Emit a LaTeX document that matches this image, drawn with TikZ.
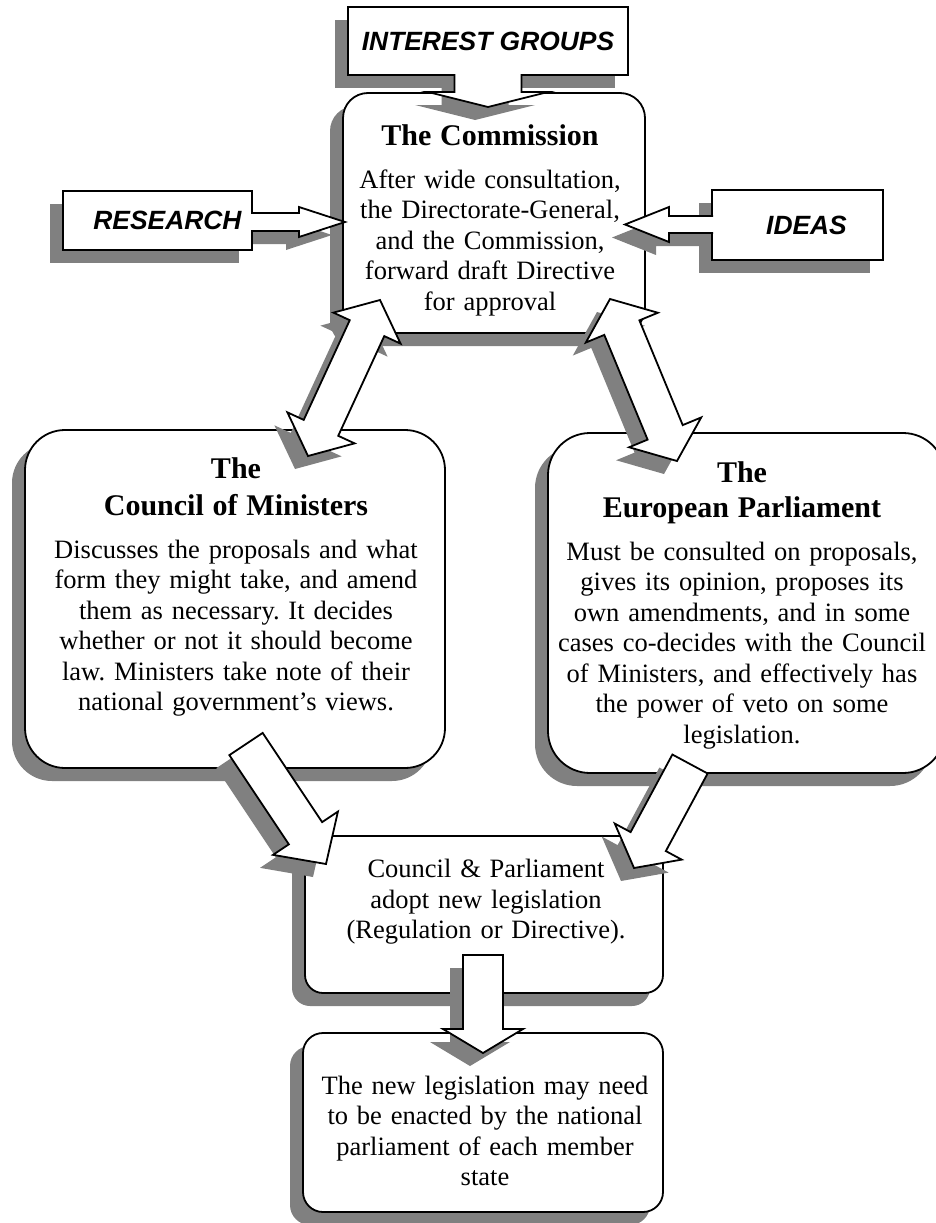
\documentclass[tikz,border=0pt]{standalone}
\usepackage{fontspec}
\setmainfont{Liberation Serif}
\newfontfamily\labelfamily{Liberation Sans}
\usetikzlibrary{calc,shadows}
\frenchspacing

\newcommand\bodyfont{\fontsize{26.5}{30.5}\selectfont}
\newcommand\headfont{\fontsize{30}{36}\selectfont\bfseries}
\newcommand\tagfont{\labelfamily\fontsize{26.4}{30}\selectfont\bfseries\itshape}

% outline points of a block arrow: name, tail, tip, shaft half, head half, head length
\newcommand\arrowpts[6]{%
  \coordinate (#1-hb) at ($(#3)!#6!(#2)$);
  \coordinate (#1-1) at ($(#2)!#4!90:(#3)$);
  \coordinate (#1-2) at ($(#1-hb)!#4!90:(#3)$);
  \coordinate (#1-3) at ($(#1-hb)!#5!90:(#3)$);
  \coordinate (#1-5) at ($(#1-hb)!#5!-90:(#3)$);
  \coordinate (#1-6) at ($(#1-hb)!#4!-90:(#3)$);
  \coordinate (#1-7) at ($(#2)!#4!-90:(#3)$);
}
\newcommand\sglarrow[6]{%
  \arrowpts{#1}{#2}{#3}{#4}{#5}{#6}
  \draw[blockarrow, shadowed] (#1-1) -- (#1-2) -- (#1-3) -- (#3) -- (#1-5) -- (#1-6) -- (#1-7) -- cycle;
}
\newcommand\dblarrow[6]{%
  \coordinate (#1-ha) at ($(#2)!#6!(#3)$);
  \coordinate (#1-hb) at ($(#3)!#6!(#2)$);
  \draw[blockarrow, shadowed] (#2) -- ($(#1-ha)!#5!90:(#3)$) -- ($(#1-ha)!#4!90:(#3)$)
    -- ($(#1-hb)!#4!90:(#3)$) -- ($(#1-hb)!#5!90:(#3)$) -- (#3)
    -- ($(#1-hb)!#5!-90:(#3)$) -- ($(#1-hb)!#4!-90:(#3)$)
    -- ($(#1-ha)!#4!-90:(#3)$) -- ($(#1-ha)!#5!-90:(#3)$) -- cycle;
}

\begin{document}
\begin{tikzpicture}[x=1pt, y=-1pt,
  shadowed/.style={drop shadow={shadow xshift=-13pt, shadow yshift=-13pt, fill=black!50, opacity=1}},
  tagbox/.style={draw, fill=white, line width=1.8pt, inner sep=0pt, shadowed, font=\tagfont},
  panel/.style={draw, fill=white, line width=1.8pt, inner sep=0pt, rounded corners=#1, shadowed},
  panel/.default=20pt,
  bodytext/.style={align=center, font=\bodyfont, inner sep=0pt},
  blockarrow/.style={draw, fill=white, line width=1.8pt, line join=miter},
  arrowline/.style={line width=1.8pt, line join=miter},
  arrowshadow/.style={fill=black!50, transform canvas={shift={(-13pt,-13pt)}}}
]

\fill[white] (0,0) rectangle (936,1223);
\useasboundingbox (0,0) rectangle (936,1223);

% the Commission
\node[panel=25pt, minimum width=302pt, minimum height=240pt] (comm) at (494,213) {};
\node[bodytext, text width=300pt] (comm-text) at (490,220)
  {{\headfont The Commission}\\[12.5pt] After wide consultation,\\ the Directorate-General,\\
   and the Commission,\\ forward draft Directive\\ for approval};

% inputs
\coordinate (ig-tail) at (488,74);
\coordinate (ig-tip) at (488,107);
\arrowpts{ig}{ig-tail}{ig-tip}{33.5pt}{60pt}{15pt}
\fill[arrowshadow] (ig-1) -- (ig-2) -- (ig-3) -- (ig-tip) -- (ig-5) -- (ig-6) -- (ig-7) -- cycle;
\node[tagbox, minimum width=280pt, minimum height=68pt] (groups) at (488,41) {INTEREST GROUPS};
\fill[white] (ig-1) -- (ig-2) -- (ig-3) -- (ig-tip) -- (ig-5) -- (ig-6) -- (ig-7) -- cycle;
\draw[arrowline] (ig-1) -- (ig-2) -- (ig-3) -- (ig-tip) -- (ig-5) -- (ig-6) -- (ig-7);

\coordinate (rs-tail) at (251,222);
\coordinate (rs-tip) at (345,222);
\arrowpts{rs}{rs-tail}{rs-tip}{9pt}{15pt}{46pt}
\fill[arrowshadow] (rs-1) -- (rs-2) -- (rs-3) -- (rs-tip) -- (rs-5) -- (rs-6) -- (rs-7) -- cycle;
\node[tagbox, minimum width=189pt, minimum height=59pt] (research) at (157.5,220.5) {\hspace*{20pt}RESEARCH};
\fill[white] (rs-1) -- (rs-2) -- (rs-3) -- (rs-tip) -- (rs-5) -- (rs-6) -- (rs-7) -- cycle;
\draw[arrowline] (rs-1) -- (rs-2) -- (rs-3) -- (rs-tip) -- (rs-5) -- (rs-6) -- (rs-7);

\coordinate (id-tail) at (713,224.5);
\coordinate (id-tip) at (625,224.5);
\arrowpts{id}{id-tail}{id-tip}{8.5pt}{17.5pt}{44pt}
\fill[arrowshadow] (id-1) -- (id-2) -- (id-3) -- (id-tip) -- (id-5) -- (id-6) -- (id-7) -- cycle;
\node[tagbox, minimum width=171pt, minimum height=70pt] (ideas) at (797.5,225) {\hspace*{18pt}IDEAS};
\fill[white] (id-1) -- (id-2) -- (id-3) -- (id-tip) -- (id-5) -- (id-6) -- (id-7) -- cycle;
\draw[arrowline] (id-1) -- (id-2) -- (id-3) -- (id-tip) -- (id-5) -- (id-6) -- (id-7);

% Council and Parliament
\node[panel=40pt, minimum width=420pt, minimum height=338pt] (council) at (235,599) {};
\node[bodytext, text width=416pt] (council-text) at (236,587)
  {{\headfont The\\[6.5pt] Council of Ministers}\\[12.5pt] Discusses the proposals and what\\
   form they might take, and amend\\ them as necessary. It decides\\ whether or not it should become\\
   law. Ministers take note of their\\ national government’s views.};

\node[panel=42pt, minimum width=397pt, minimum height=340pt] (parl) at (746.5,603) {};
\node[bodytext, text width=390pt] (parl-text) at (742,605)
  {{\headfont The\\[4.5pt] European Parliament}\\[12.5pt] Must be consulted on proposals,\\
   gives its opinion, proposes its\\ own amendments, and in some\\ cases co-decides with the Council\\
   of Ministers, and effectively has\\ the power of veto on some\\ legislation.};

\coordinate (ca-a) at (380,300);
\coordinate (ca-b) at (308,456);
\dblarrow{ca}{ca-a}{ca-b}{19pt}{37pt}{31pt}
\coordinate (pa-a) at (610,299);
\coordinate (pa-b) at (677,461);
\dblarrow{pa}{pa-a}{pa-b}{19pt}{39pt}{31pt}

% adoption and enactment
\node[panel=18pt, minimum width=358pt, minimum height=157pt] (adopt) at (484,914.5) {};
\node[bodytext, text width=350pt] (adopt-text) at (486,902)
  {Council \& Parliament\\ adopt new legislation\\ (Regulation or Directive).};

\node[panel=20pt, minimum width=360pt, minimum height=179pt] (state) at (483,1122.5) {};
\node[bodytext, text width=350pt] (state-text) at (485,1131)
  {The new legislation may need\\ to be enacted by the national\\ parliament of each member\\ state};

\coordinate (cl-tail) at (246,744);
\coordinate (cl-tip) at (326,864);
\sglarrow{cl}{cl-tail}{cl-tip}{20pt}{39pt}{37pt}
\coordinate (pl-tail) at (690,764);
\coordinate (pl-tip) at (634,868);
\sglarrow{pl}{pl-tail}{pl-tip}{20pt}{38pt}{30pt}
\coordinate (dn-tail) at (483,955);
\coordinate (dn-tip) at (483,1053);
\sglarrow{dn}{dn-tail}{dn-tip}{20pt}{40pt}{24pt}

\end{tikzpicture}
\end{document}
